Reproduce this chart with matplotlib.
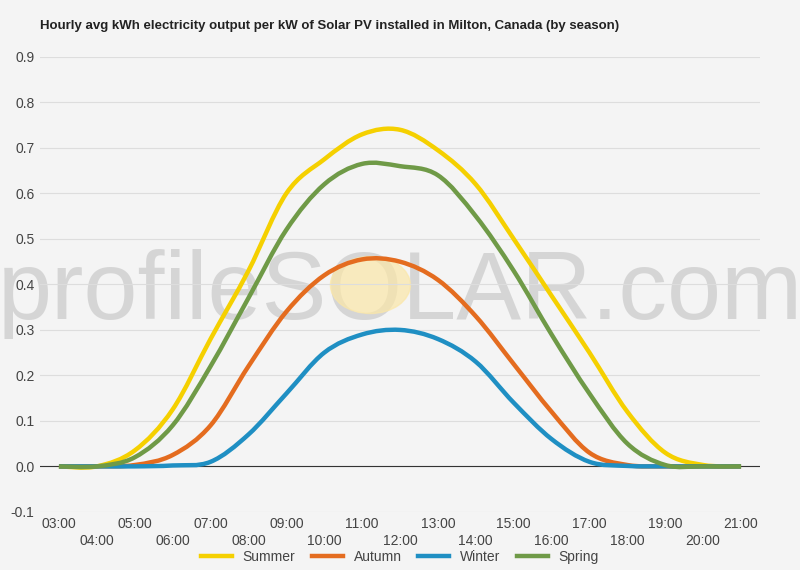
import numpy as np
import matplotlib
matplotlib.use("Agg")
import matplotlib.pyplot as plt
from matplotlib.path import Path
from matplotlib.patches import PathPatch, Circle

hours = list(range(3, 22))
summer = [0, 0, 0.035, 0.125, 0.28, 0.43, 0.60, 0.675, 0.73, 0.74, 0.695, 0.62, 0.50, 0.375, 0.25, 0.12, 0.03, 0.003, 0]
autumn = [0, 0, 0.003, 0.025, 0.09, 0.22, 0.34, 0.42, 0.455, 0.45, 0.41, 0.33, 0.225, 0.12, 0.03, 0.003, 0, 0, 0]
winter = [0, 0, 0, 0.002, 0.01, 0.07, 0.16, 0.25, 0.29, 0.30, 0.28, 0.23, 0.14, 0.06, 0.01, 0.001, 0, 0, 0]
spring = [0, 0, 0.02, 0.09, 0.22, 0.37, 0.52, 0.62, 0.665, 0.66, 0.64, 0.55, 0.43, 0.29, 0.16, 0.05, 0.003, 0, 0]
series = [("Summer", summer, "#f5d000"), ("Autumn", autumn, "#e46c1f"),
          ("Winter", winter, "#1f8fc3"), ("Spring", spring, "#6f9a47")]


def smooth_path(x, y):
    # catmull-rom through the points, as cubic bezier segments
    x = np.asarray(x, float); y = np.asarray(y, float)
    verts = [(x[0], y[0])]
    codes = [Path.MOVETO]
    n = len(x)
    for i in range(n - 1):
        p0 = (x[max(i - 1, 0)], y[max(i - 1, 0)])
        p1 = (x[i], y[i]); p2 = (x[i + 1], y[i + 1])
        p3 = (x[min(i + 2, n - 1)], y[min(i + 2, n - 1)])
        c1 = (p1[0] + (p2[0] - p0[0]) / 6, p1[1] + (p2[1] - p0[1]) / 6)
        c2 = (p2[0] - (p3[0] - p1[0]) / 6, p2[1] - (p3[1] - p1[1]) / 6)
        verts += [c1, c2, p2]
        codes += [Path.CURVE4] * 3
    return Path(verts, codes)


plt.rcParams["font.family"] = "Liberation Sans"
bg = "#f4f4f4"
fig = plt.figure(figsize=(8, 5.7), dpi=100, facecolor=bg)
ax = fig.add_axes([0.05, 0.102, 0.90, 0.798], facecolor=bg)

ax.text(0.5, 0.485, "profileSOLAR.com", transform=fig.transFigure, ha="center", va="center",
        fontsize=70, color="#bdbdbd", alpha=0.55, zorder=0)
ax.add_patch(Circle((0.463, 0.5), 0.05, transform=fig.transFigure, color="#fbe7a8", alpha=0.7, zorder=0))

for name, vals, col in series:
    ax.add_patch(PathPatch(smooth_path(hours, vals), fill=False, edgecolor=col, lw=3.2, zorder=3))
    ax.plot([], [], color=col, lw=3.2, label=name)

ax.axhline(0, color="#333333", lw=0.8, zorder=2)
ax.set_xlim(2.5, 21.5)
ax.set_ylim(-0.1, 0.9)
ax.set_yticks(np.arange(-0.1, 0.91, 0.1))
ax.set_yticklabels(["%.1f" % v for v in np.arange(-0.1, 0.91, 0.1)], color="#444444", fontsize=10)
ax.grid(axis="y", color="#dddddd", lw=0.8)
ax.set_axisbelow(True)
ax.set_xticks(hours)
ax.set_xticklabels([("%02d:00" % h) if i % 2 == 0 else ("\n%02d:00" % h) for i, h in enumerate(hours)],
                   color="#444444", fontsize=10)
ax.tick_params(length=0, pad=4)
for s in ax.spines.values():
    s.set_visible(False)

fig.text(0.05, 0.955, "Hourly avg kWh electricity output per kW of Solar PV installed in Milton, Canada (by season)",
         fontsize=9.5, fontweight="bold", color="#222222", va="center")
fig.legend(loc="lower center", ncol=4, frameon=False, fontsize=10, handlelength=2.2,
           bbox_to_anchor=(0.5, -0.012), columnspacing=1.2, labelcolor="#444444")

fig.savefig("out.png", dpi=100, facecolor=bg)
